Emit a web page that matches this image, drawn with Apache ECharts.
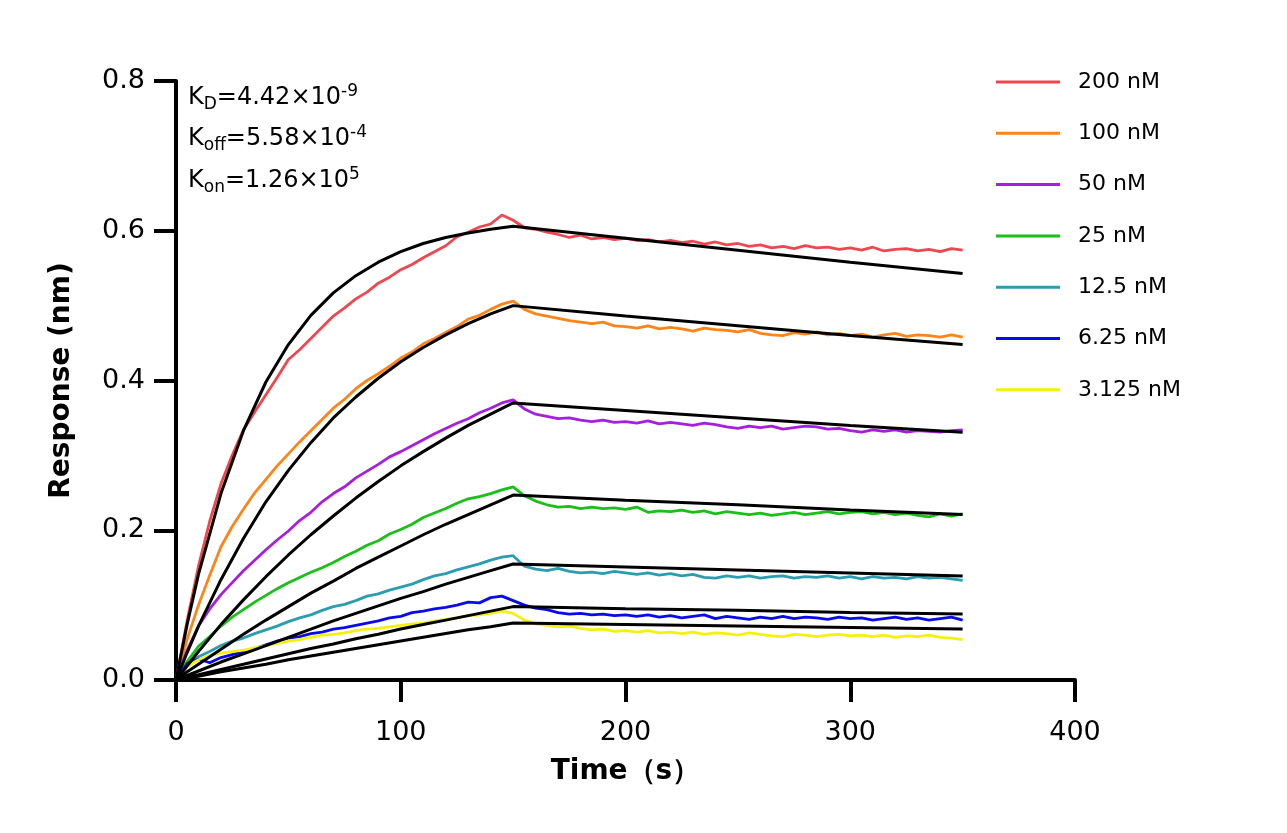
<!DOCTYPE html>
<html>
<head>
<meta charset="utf-8">
<script src="https://cdn.jsdelivr.net/npm/echarts@6/dist/echarts.min.js"></script>
<style type="text/css">
html,body{margin:0;padding:0;background:#fff;}
#kin{width:1287px;height:833px;}
</style>
</head>
<body>
<div id="kin"></div>
<script type="text/javascript">
// sensorgram, 7 concentrations + global 1:1 fit (black)
var names = ['200 nM','100 nM','50 nM','25 nM','12.5 nM','6.25 nM','3.125 nM'];
var colors = ['#f04650','#ff8418','#a81ee0','#18c018','#2a9db0','#0a0af0','#f4f010'];

var time = [0,5,10,15,20,25,30,35,40,45,50,55,60,65,70,75,80,85,90,95,
  100,105,110,115,120,125,130,135,140,145,150,155,160,165,170,175,180,185,190,195,
  200,205,210,215,220,225,230,235,240,245,250,255,260,265,270,275,280,285,290,295,
  300,305,310,315,320,325,330,335,340,345,350];

var d200 = [0,0.080,0.152,0.212,0.262,0.300,0.334,0.358,0.381,0.404,
  0.428,0.441,0.456,0.471,0.486,0.497,0.509,0.518,0.530,0.538,
  0.548,0.555,0.564,0.572,0.580,0.592,0.598,0.605,0.609,0.621,
  0.614,0.604,0.602,0.598,0.595,0.591,0.594,0.589,0.591,0.588,
  0.590,0.587,0.588,0.585,0.587,0.584,0.586,0.582,0.585,0.581,
  0.583,0.579,0.581,0.577,0.579,0.576,0.580,0.577,0.578,0.575,
  0.577,0.574,0.578,0.573,0.575,0.576,0.573,0.575,0.572,0.576,0.574];
var d100 = [0,0.055,0.100,0.140,0.178,0.205,0.228,0.250,0.268,0.286,
  0.302,0.318,0.333,0.348,0.363,0.375,0.389,0.400,0.409,0.419,
  0.430,0.438,0.449,0.456,0.464,0.472,0.482,0.487,0.495,0.502,
  0.506,0.495,0.489,0.486,0.483,0.480,0.478,0.476,0.478,0.473,
  0.472,0.470,0.473,0.469,0.471,0.469,0.466,0.470,0.468,0.467,
  0.465,0.468,0.463,0.461,0.460,0.464,0.462,0.465,0.461,0.463,
  0.460,0.462,0.458,0.461,0.463,0.459,0.461,0.460,0.458,0.461,0.458];
var d50 = [0,0.040,0.072,0.095,0.114,0.130,0.146,0.160,0.174,0.187,
  0.199,0.213,0.224,0.238,0.249,0.258,0.270,0.279,0.288,0.298,
  0.305,0.313,0.321,0.329,0.336,0.343,0.349,0.357,0.363,0.370,
  0.374,0.362,0.355,0.352,0.349,0.350,0.347,0.345,0.347,0.344,
  0.345,0.343,0.346,0.342,0.344,0.342,0.340,0.343,0.341,0.338,
  0.336,0.339,0.337,0.339,0.335,0.337,0.339,0.338,0.335,0.336,
  0.333,0.331,0.334,0.332,0.334,0.331,0.333,0.332,0.331,0.333,0.334];
var d25 = [0,0.025,0.045,0.058,0.072,0.084,0.094,0.104,0.113,0.122,
  0.130,0.137,0.144,0.150,0.157,0.165,0.172,0.180,0.186,0.195,
  0.201,0.208,0.217,0.223,0.229,0.236,0.242,0.245,0.249,0.254,
  0.258,0.246,0.239,0.234,0.231,0.232,0.229,0.231,0.229,0.230,
  0.228,0.231,0.224,0.226,0.225,0.227,0.224,0.226,0.222,0.225,
  0.223,0.221,0.223,0.220,0.222,0.224,0.221,0.223,0.225,0.222,
  0.224,0.225,0.222,0.224,0.221,0.223,0.220,0.218,0.222,0.219,0.222];
var d12 = [0,0.020,0.031,0.038,0.046,0.052,0.056,0.062,0.067,0.072,
  0.078,0.083,0.087,0.093,0.098,0.101,0.106,0.112,0.115,0.120,
  0.124,0.128,0.134,0.139,0.142,0.147,0.151,0.155,0.160,0.164,
  0.166,0.152,0.148,0.146,0.149,0.145,0.143,0.144,0.142,0.145,
  0.143,0.141,0.143,0.140,0.142,0.139,0.141,0.137,0.136,0.139,
  0.137,0.139,0.136,0.138,0.139,0.136,0.138,0.137,0.139,0.136,
  0.138,0.135,0.138,0.136,0.137,0.135,0.138,0.136,0.137,0.135,0.133];
var d6 = [0,0.022,0.028,0.023,0.030,0.034,0.038,0.042,0.047,0.052,
  0.056,0.058,0.062,0.064,0.068,0.070,0.073,0.076,0.079,0.083,
  0.085,0.090,0.092,0.095,0.097,0.100,0.104,0.103,0.110,0.112,
  0.106,0.100,0.096,0.094,0.090,0.088,0.089,0.087,0.088,0.086,
  0.087,0.085,0.087,0.084,0.086,0.083,0.085,0.087,0.082,0.085,
  0.083,0.081,0.084,0.082,0.085,0.082,0.084,0.083,0.081,0.084,
  0.082,0.083,0.080,0.082,0.084,0.081,0.083,0.080,0.082,0.084,0.080];
var d3 = [0,0.018,0.027,0.033,0.036,0.038,0.040,0.043,0.046,0.049,
  0.052,0.054,0.057,0.060,0.061,0.063,0.066,0.068,0.069,0.071,
  0.073,0.075,0.076,0.079,0.081,0.083,0.086,0.087,0.089,0.092,
  0.089,0.080,0.075,0.073,0.071,0.072,0.069,0.067,0.068,0.065,
  0.066,0.064,0.066,0.063,0.064,0.062,0.064,0.061,0.063,0.062,
  0.060,0.063,0.061,0.059,0.058,0.061,0.060,0.058,0.060,0.061,
  0.059,0.060,0.058,0.060,0.057,0.059,0.058,0.060,0.057,0.056,0.054];

// fitted curves (black)
var fitTime = [0,5,10,20,30,40,50,60,70,80,90,100,110,120,130,140,150,200,250,300,350];
var f200 = [0,0.075,0.141,0.249,0.333,0.398,0.448,0.487,0.517,0.540,0.558,0.572,0.583,0.591,0.597,0.602,0.606,0.590,0.574,0.558,0.543];
var f100 = [0,0.037,0.072,0.134,0.189,0.238,0.280,0.317,0.350,0.378,0.403,0.425,0.444,0.461,0.476,0.489,0.500,0.486,0.473,0.460,0.448];
var f50 = [0,0.019,0.038,0.074,0.107,0.138,0.167,0.194,0.219,0.243,0.265,0.286,0.305,0.323,0.340,0.355,0.370,0.360,0.350,0.340,0.331];
var f25 = [0,0.011,0.021,0.041,0.061,0.080,0.098,0.116,0.132,0.149,0.164,0.179,0.194,0.208,0.221,0.234,0.247,0.240,0.234,0.227,0.221];
var f12 = [0,0.006,0.012,0.024,0.035,0.046,0.057,0.068,0.079,0.089,0.099,0.109,0.118,0.128,0.137,0.146,0.155,0.151,0.147,0.143,0.139];
var f6 = [0,0.004,0.007,0.014,0.021,0.028,0.035,0.042,0.048,0.055,0.061,0.068,0.074,0.080,0.086,0.092,0.098,0.095,0.093,0.090,0.088];
var f3 = [0,0.003,0.005,0.011,0.016,0.021,0.027,0.032,0.037,0.042,0.047,0.052,0.057,0.062,0.067,0.071,0.076,0.074,0.072,0.070,0.068];

var xTicks = [0,100,200,300,400];
var yTicks = [0,0.2,0.4,0.6,0.8];

function pairs(xs, ys){
  var out = [];
  for (var i = 0; i < ys.length; i++) out.push([xs[i], ys[i]]);
  return out;
}

var raw = [d200,d100,d50,d25,d12,d6,d3];
var fits = [f200,f100,f50,f25,f12,f6,f3];
var series = [];
for (var i = 0; i < raw.length; i++){
  series.push({name:names[i], type:'line', data:pairs(time, raw[i]), showSymbol:false,
    lineStyle:{width:2.8, color:colors[i]}, itemStyle:{color:colors[i]}, z:2});
}
for (var j = 0; j < fits.length; j++){
  series.push({name:'fit '+names[j], type:'line', data:pairs(fitTime, fits[j]), showSymbol:false,
    lineStyle:{width:3, color:'#000'}, itemStyle:{color:'#000'}, z:3});
}

var font = 'DejaVu Sans';
var kin = echarts.init(document.getElementById('kin'));
var option = {
  animation:false,
  backgroundColor:'#fff',
  grid:{left:176, top:81, width:899, height:599},
  legend:{
    orient:'vertical', left:991, top:66, icon:'rect', itemWidth:64, itemHeight:3, itemGap:29.3,
    textStyle:{fontFamily:font, fontSize:22, lineHeight:22, color:'#000', padding:[0,0,0,13]},
    data:names
  },
  xAxis:{
    type:'value', min:xTicks[0], max:xTicks[xTicks.length-1], interval:100,
    name:'Time（s）', nameLocation:'middle', nameGap:78,
    nameTextStyle:{fontFamily:font, fontSize:28, fontWeight:'bold', color:'#000'},
    axisLine:{lineStyle:{color:'#000', width:4}},
    axisTick:{length:22, lineStyle:{width:4, color:'#000'}},
    axisLabel:{fontFamily:font, fontSize:27, color:'#000', margin:39},
    splitLine:{show:false}
  },
  yAxis:{
    type:'value', min:yTicks[0], max:yTicks[yTicks.length-1], interval:0.2,
    name:'Response (nm)', nameLocation:'middle', nameGap:100,
    nameTextStyle:{fontFamily:font, fontSize:28, fontWeight:'bold', color:'#000'},
    axisLine:{show:true, lineStyle:{color:'#000', width:4}},
    axisTick:{show:true, length:22, lineStyle:{width:4, color:'#000'}},
    axisLabel:{fontFamily:font, fontSize:27, color:'#000', margin:31,
      formatter:function(v){ return v.toFixed(1); }},
    splitLine:{show:false}
  },
  graphic:[
    {type:'text', left:188, top:83, style:{text:'{k|K}{sb|D}{k|=4.42×10}{sp|-9}', rich:null}},
    {type:'text', left:188, top:124, style:{text:'{k|K}{sb|off}{k|=5.58×10}{sp|-4}', rich:null}},
    {type:'text', left:188, top:166, style:{text:'{k|K}{sb|on}{k|=1.26×10}{sp|5}', rich:null}}
  ],
  series:series
};
var rich = {
  k:{fontFamily:font, fontSize:24, lineHeight:30, color:'#000'},
  sb:{fontFamily:font, fontSize:17, lineHeight:16, verticalAlign:'bottom', color:'#000'},
  sp:{fontFamily:font, fontSize:17, lineHeight:16, verticalAlign:'top', color:'#000'}
};
for (var g = 0; g < option.graphic.length; g++) option.graphic[g].style.rich = rich;
kin.setOption(option);
</script>
</body>
</html>
